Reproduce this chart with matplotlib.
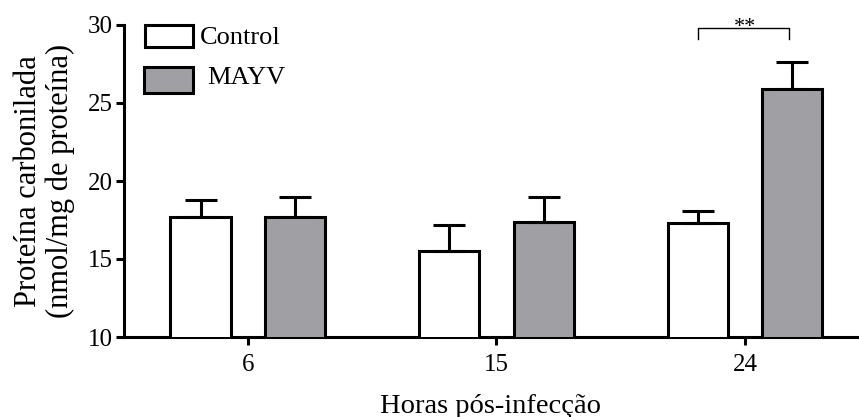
import matplotlib
matplotlib.use("Agg")
import matplotlib.pyplot as plt
from matplotlib.patches import Rectangle
import numpy as np

plt.rcParams['font.family'] = ['Liberation Serif', 'DejaVu Serif']

hours = ["6", "15", "24"]
control_mean = [17.7, 15.5, 17.3]
control_err = [1.1, 1.7, 0.8]
mayv_mean = [17.7, 17.4, 25.9]
mayv_err = [1.3, 1.6, 1.7]
series_names = ["Control", "MAYV"]
grey = "#a09fa3"

W, H = 859, 417
fig = plt.figure(figsize=(W / 100, H / 100), dpi=100)
ax_l, ax_r, ax_t, ax_b = 124, 858, 25, 337
ax = fig.add_axes([ax_l / W, 1 - ax_b / H, (ax_r - ax_l) / W, (ax_b - ax_t) / H])

x = np.arange(len(hours))
bw = 0.242
off = 0.19
lw = 2.2
ekw = dict(elinewidth=lw, capthick=lw, capsize=11.5, ecolor="black")

# only upper error bars are drawn
ax.bar(x - off, control_mean, bw, bottom=0, color="white", edgecolor="black",
       linewidth=lw, zorder=3,
       yerr=[np.zeros(3), control_err], error_kw=ekw)
ax.bar(x + off, mayv_mean, bw, bottom=0, color=grey, edgecolor="black",
       linewidth=lw, zorder=3,
       yerr=[np.zeros(3), mayv_err], error_kw=ekw)

ax.set_ylim(10, 30)
ax.set_xlim(-0.498, 2.454)
ax.set_yticks([10, 15, 20, 25, 30])
ax.set_xticks(x)
ax.set_xticklabels(hours)
ax.tick_params(axis="both", labelsize=18, width=lw, length=6, direction="out")
ax.tick_params(axis="y", pad=2)
ax.tick_params(axis="x", pad=6)
for s in ["top", "right"]:
    ax.spines[s].set_visible(False)
for s in ["left", "bottom"]:
    ax.spines[s].set_linewidth(lw)

ax.set_xlabel("Horas pós-infecção", fontsize=20.5, labelpad=13)
ax.set_ylabel("Proteína carbonilada\n(nmol/mg de proteína)", fontsize=22,
              labelpad=9, linespacing=1.15)

# significance bracket between the 24 h bars
top = 29.8
drop = 29.1
ax.plot([2 - off, 2 - off, 2 + off - 0.015, 2 + off - 0.015], [drop, top, top, drop],
        color="black", lw=1.0, clip_on=False)
ax.text(2, top + 0.05, "**", ha="center", va="center", fontsize=16)

# legend boxes
def axfrac(px, py):
    return (px - ax_l) / (ax_r - ax_l), (ax_b - py) / (ax_b - ax_t)

for (x0, y0, x1, y1, fc, lx, ly), name in zip(
        [(145, 25, 193, 47, "white", 200, 38), (144, 67, 193, 93, grey, 207, 78)],
        series_names):
    a0 = axfrac(x0, y1)
    a1 = axfrac(x1, y0)
    ax.add_patch(Rectangle(a0, a1[0] - a0[0], a1[1] - a0[1], transform=ax.transAxes,
                           facecolor=fc, edgecolor="black", linewidth=lw,
                           clip_on=False, zorder=4))
    tx, ty = axfrac(lx, ly)
    ax.text(tx, ty, name, transform=ax.transAxes, ha="left", va="center",
            fontsize=19)

fig.savefig("out.png", dpi=100)
